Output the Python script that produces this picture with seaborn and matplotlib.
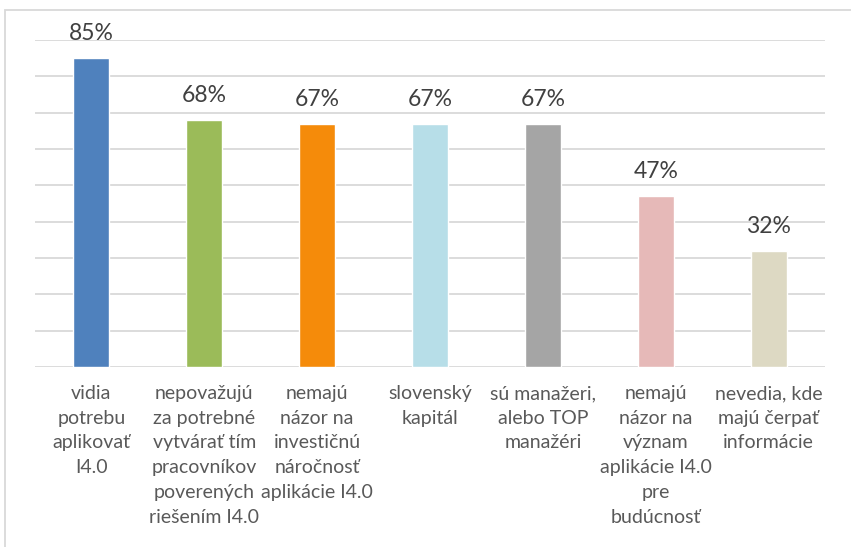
import matplotlib
matplotlib.use("Agg")
import matplotlib.pyplot as plt
import seaborn as sns
import pandas as pd
from matplotlib.patches import Rectangle

categories = [
    "vidia\npotrebu\naplikovať\nI4.0",
    "nepovažujú\nza potrebné\nvytvárať tím\npracovníkov\npoverených\nriešením I4.0",
    "nemajú\nnázor na\ninvestičnú\nnáročnosť\naplikácie I4.0",
    "slovenský\nkapitál",
    "sú manažeri,\nalebo TOP\nmanažéri",
    "nemajú\nnázor na\nvýznam\naplikácie I4.0\npre\nbudúcnosť",
    "nevedia, kde\nmajú čerpať\ninformácie",
]
values = [85, 68, 67, 67, 67, 47, 32]
colors = ["#4F81BD", "#9BBB59", "#F58B0A", "#B7DEE8", "#A5A5A5", "#E6B9B8", "#DDD9C3"]

df = pd.DataFrame({"cat": categories, "val": values})

sns.set_style("white")
plt.rcParams["font.family"] = ["Lato", "DejaVu Sans"]

fig = plt.figure(figsize=(8.51, 5.47), dpi=100)
fig.patches.append(Rectangle((5 / 851, -0.1), 2, 1.1 - 10 / 547,
                             transform=fig.transFigure, fill=False,
                             edgecolor="#D9D9D9", lw=1.3, zorder=0))
ax = fig.add_axes([35 / 851, 180 / 547, 790 / 851, 327 / 547])

sns.barplot(data=df, x="cat", y="val", hue="cat", palette=colors,
            legend=False, width=0.32, ax=ax, saturation=1)

ax.set_ylim(0, 90)
ax.set_xlim(-0.5, 6.5)
ax.set_yticks(range(0, 91, 10))
ax.yaxis.grid(True, color="#D9D9D9", lw=1.3)
ax.set_axisbelow(True)
for s in ax.spines.values():
    s.set_visible(False)
ax.tick_params(axis="y", left=False, labelleft=False)
ax.tick_params(axis="x", length=0, pad=13)
ax.set_xlabel("")
ax.set_ylabel("")
for lbl in ax.get_xticklabels():
    lbl.set_fontsize(14)
    lbl.set_color("#595959")
    lbl.set_linespacing(1.55)
    lbl.set_ha("center")

for i, v in enumerate(values):
    ax.annotate(f"{v}%", (i, v), xytext=(0, 10), textcoords="offset points",
                ha="center", va="bottom", fontsize=16.5, color="#404040")

fig.savefig("out.png", dpi=100)
